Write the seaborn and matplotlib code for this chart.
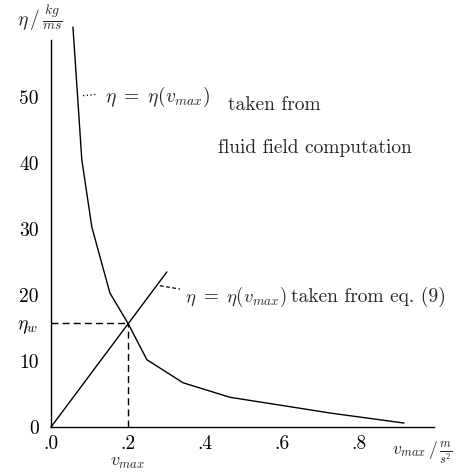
import matplotlib
matplotlib.use("Agg")
import matplotlib.pyplot as plt
import seaborn as sns
import pandas as pd

# ---- data ----
fluid_x = [0.057, 0.080, 0.106, 0.153, 0.200, 0.249, 0.343, 0.465, 0.640, 0.727, 0.917]
fluid_y = [60.6, 40.5, 30.3, 20.3, 15.7, 10.2, 6.7, 4.5, 2.9, 2.1, 0.6]
eq_x = [0.0, 0.301]
eq_y = [0.0, 23.5]
v_max_w = 0.2
eta_w = 15.7
x_ticks = [0.0, 0.2, 0.4, 0.6, 0.8]
x_tick_labels = [".0", ".2", ".4", ".6", ".8"]
y_ticks = [0, 10, 20, 30, 40, 50]
y_tick_labels = ["0", "10", "20", "30", "40", "50"]

sns.set_style("white")
plt.rcParams["font.family"] = ["cmr10", "DejaVu Serif"]
plt.rcParams["mathtext.fontset"] = "cm"
plt.rcParams["axes.unicode_minus"] = False

fig = plt.figure(figsize=(4.62, 4.75), dpi=100)
ax = fig.add_axes([51 / 462, 48 / 475, 385 / 462, 400 / 475])

df_fluid = pd.DataFrame({"v": fluid_x, "eta": fluid_y})
df_eq = pd.DataFrame({"v": eq_x, "eta": eq_y})
sns.lineplot(data=df_fluid, x="v", y="eta", ax=ax, color="black", lw=1.0, sort=False,
             clip_on=False)
sns.lineplot(data=df_eq, x="v", y="eta", ax=ax, color="black", lw=1.0, sort=False,
             clip_on=False)

# dashed guide lines to the intersection
ax.plot([0, v_max_w], [eta_w, eta_w], color="black", lw=1.0, ls=(0, (5, 3)))
ax.plot([v_max_w, v_max_w], [0, eta_w], color="black", lw=1.0, ls=(0, (5, 3)))

ax.set_xlim(0, 1.0)
ax.set_ylim(0, 60.6)
ax.set_xlabel("")
ax.set_ylabel("")
for s in ["top", "right"]:
    ax.spines[s].set_visible(False)
for s in ["left", "bottom"]:
    ax.spines[s].set_color("black")
    ax.spines[s].set_linewidth(1.0)
ax.spines["left"].set_bounds(0, 58.6)
ax.spines["bottom"].set_bounds(0, 0.995)

ax.set_xticks(x_ticks)
ax.set_xticklabels(x_tick_labels)
ax.set_yticks(y_ticks + [eta_w])
ax.set_yticklabels(y_tick_labels + [r"$\eta_w$"])
ax.tick_params(axis="both", length=0, labelsize=14, colors="black")
ax.tick_params(axis="y", pad=9)
ax.tick_params(axis="x", pad=6)

# axis labels
ax.text(-0.088, 62.0, r"$\eta\,/\,\frac{kg}{ms}$", fontsize=14, ha="left", va="center",
        clip_on=False)
ax.text(0.885, -3.9, r"$v_{max}\,/\,\frac{m}{s^2}$", fontsize=12.5, ha="left", va="center",
        clip_on=False)
ax.text(v_max_w, -5.5, r"$v_{max}$", fontsize=13, ha="center", va="center", clip_on=False)

# annotation 1
ax.plot([0.083, 0.122], [50.2, 50.4], color="black", lw=0.9, ls=(0, (1, 2)))
ax.text(0.140, 50.0, r"$\eta\ =\ \eta(v_{max})$", fontsize=14, ha="left", va="center")
ax.text(0.460, 48.8, "taken from", fontsize=14, ha="left", va="center")
ax.text(0.434, 42.3, "fluid field computation", fontsize=14, ha="left", va="center")

# annotation 2
ax.plot([0.283, 0.335], [21.4, 20.9], color="black", lw=0.9, ls=(0, (3, 2)))
ax.text(0.348, 19.7, r"$\eta\ =\ \eta(v_{max})$", fontsize=13.5, ha="left", va="center")
ax.text(0.624, 19.7, "taken from eq. (9)", fontsize=14, ha="left", va="center")

fig.savefig("out.png", dpi=100)
